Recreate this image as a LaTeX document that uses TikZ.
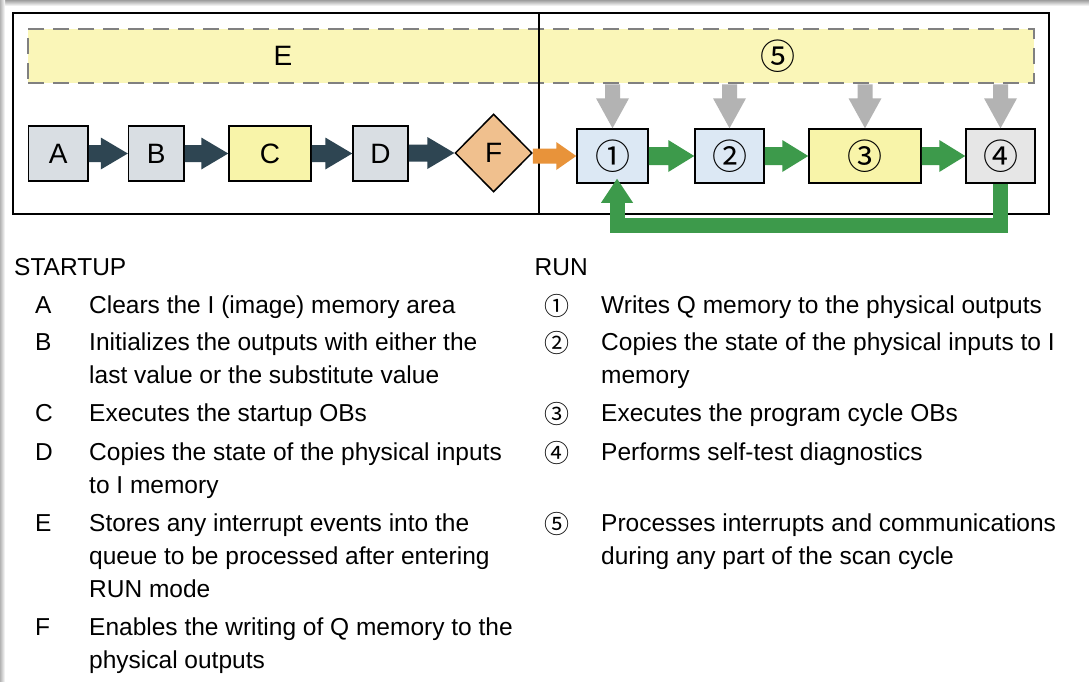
\documentclass[tikz,border=0pt]{standalone}
\usepackage{fontspec}
\setmainfont{Liberation Sans}
\newfontfamily\circfont{Noto Sans CJK SC}
\usetikzlibrary{shapes.geometric,calc}
\definecolor{boxgray}{HTML}{D9DEE3}
\definecolor{boxyellow}{HTML}{F8F4A9}
\definecolor{boxorange}{HTML}{F0C08E}
\definecolor{boxblue}{HTML}{DCE8F4}
\definecolor{boxlgray}{HTML}{E6E6E6}
\definecolor{bandyellow}{HTML}{FAF6B8}
\definecolor{dashgray}{HTML}{808080}
\definecolor{darkarrow}{HTML}{2E4552}
\definecolor{greenarrow}{HTML}{3D9A4B}
\definecolor{orangearrow}{HTML}{E8933A}
\definecolor{grayarrow}{HTML}{B3B3B3}
\tikzset{
  box/.style={draw=black,line width=1.5pt,inner sep=0pt,minimum height=55pt,font=\fontsize{28}{28}\selectfont},
  runbox/.style={box,minimum height=54pt,font=\circfont\fontsize{35}{35}\selectfont},
  txt/.style={anchor=base west,inner sep=0pt,font=\fontsize{24.5}{24.5}\selectfont},
  circ/.style={anchor=base,inner sep=0pt,yshift=-2pt,font=\circfont\fontsize{25}{25}\selectfont},
}
% horizontal block arrow: colour, from, to(tip), shaft half, head half, head length
\newcommand\harrow[6]{%
  \fill[#1] ($(#2 |- #3)+(0,-#4)$) -- ($(#3)+(-#6,-#4)$) -- ($(#3)+(-#6,-#5)$) -- (#3)
    -- ($(#3)+(-#6,#5)$) -- ($(#3)+(-#6,#4)$) -- ($(#2 |- #3)+(0,#4)$) -- cycle;}
% vertical (downward) block arrow
\newcommand\varrow[6]{%
  \fill[#1] ($(#3 |- #2)+(-#4,0)$) -- ($(#3)+(-#4,-#6)$) -- ($(#3)+(-#5,-#6)$) -- (#3)
    -- ($(#3)+(#5,-#6)$) -- ($(#3)+(#4,-#6)$) -- ($(#3 |- #2)+(#4,0)$) -- cycle;}
\begin{document}
\begin{tikzpicture}[x=1pt,y=-1pt]
\useasboundingbox (0,0) rectangle (1089,681);
\fill[white] (0,0) rectangle (1089,681);
% page shadow
\shade[top color=black!38,bottom color=white] (0,0) rectangle (1089,6);
\shade[left color=black!30,right color=white] (0,0) rectangle (5,681);

% interrupt band
\node[draw=dashgray,fill=bandyellow,line width=2.5pt,dash pattern=on 16pt off 9pt,
      minimum width=1006pt,minimum height=54pt,inner sep=0pt] (band) at (531,56) {};
\node[inner sep=0pt,font=\fontsize{28}{28}\selectfont] (Elab) at (283,56) {E};
\node[inner sep=0pt,font=\circfont\fontsize{35}{35}\selectfont] (Flab) at (778,56) {⑤};

% frame
\draw[line width=1.3pt] (13,13) rectangle (1049,214);
\draw[line width=1.3pt] (539,13) -- (539,214);

% startup boxes
\node[box,fill=boxgray,minimum width=59.5pt] (A) at (58.3,153.5) {A};
\node[box,fill=boxgray,minimum width=55.5pt] (B) at (156.3,153.5) {B};
\node[box,fill=boxyellow,minimum width=82pt] (C) at (270,153.5) {C};
\node[box,fill=boxgray,minimum width=55pt] (D) at (380.5,153.5) {D};
\node[draw=black,line width=1.5pt,fill=boxorange,diamond,inner sep=0pt,
      minimum width=77pt,minimum height=78pt,font=\fontsize{28}{28}\selectfont] (F) at (493.6,153) {F};

% run boxes
\node[runbox,fill=boxblue,minimum width=71pt] (n1) at (612.5,156) {①};
\node[runbox,fill=boxblue,minimum width=69pt] (n2) at (729.5,156) {②};
\node[runbox,fill=boxyellow,minimum width=112pt] (n3) at (865,156) {③};
\node[runbox,fill=boxlgray,minimum width=69pt] (n4) at (1000.5,156) {④};

% startup arrows
\harrow{darkarrow}{A.east}{B.west}{8.5}{16}{27}
\harrow{darkarrow}{B.east}{C.west}{8.5}{16}{27}
\harrow{darkarrow}{C.east}{D.west}{8.5}{16}{27}
\harrow{darkarrow}{D.east}{F.west}{8.5}{16}{27}
\harrow{orangearrow}{F.east}{n1.west}{7.5}{14}{20}

% run arrows
\harrow{greenarrow}{n1.east}{n2.west}{9}{16}{26}
\harrow{greenarrow}{n2.east}{n3.west}{9}{16}{26}
\harrow{greenarrow}{n3.east}{n4.west}{9}{16}{26}

% interrupt arrows
\varrow{grayarrow}{band.south}{n1.north}{7.5}{16.5}{30}
\varrow{grayarrow}{band.south}{n2.north}{7.5}{16.5}{30}
\varrow{grayarrow}{band.south}{n3.north}{7.5}{16.5}{30}
\varrow{grayarrow}{band.south}{n4.north}{7.5}{16.5}{30}

% loop back
\coordinate (tip) at ($(n1.south)+(4.5,-5)$);
\coordinate (lb) at (617,225.5);
\draw[greenarrow,line width=15pt] (n4.south) |- (lb) -- ($(tip)+(0,22)$);
\fill[greenarrow] ($(tip)+(-16,24)$) -- (tip) -- ($(tip)+(16,24)$) -- cycle;

% legend: startup
\node[txt] (hs) at (14,275) {STARTUP};
\node[txt] (la) at (35,313) {A};
\node[txt] (ta) at (89,313) {Clears the I (image) memory area};
\node[txt] (lb1) at (35,350) {B};
\node[txt] (tb1) at (89,350) {Initializes the outputs with either the};
\node[txt] (tb2) at (89,383) {last value or the substitute value};
\node[txt] (lc) at (35,421) {C};
\node[txt] (tc) at (89,421) {Executes the startup OBs};
\node[txt] (ld) at (35,460) {D};
\node[txt] (td1) at (89,460) {Copies the state of the physical inputs};
\node[txt] (td2) at (89,493) {to I memory};
\node[txt] (le) at (35,531) {E};
\node[txt] (te1) at (89,531) {Stores any interrupt events into the};
\node[txt] (te2) at (89,564) {queue to be processed after entering};
\node[txt] (te3) at (89,597) {RUN mode};
\node[txt] (lf) at (35,635) {F};
\node[txt] (tf1) at (89,635) {Enables the writing of Q memory to the};
\node[txt] (tf2) at (89,668) {physical outputs};

% legend: run
\node[txt] (hr) at (534.5,275) {RUN};
\node[circ] (c1) at (556.5,313) {①};
\node[txt] (r1) at (601,313) {Writes Q memory to the physical outputs};
\node[circ] (c2) at (556.5,350) {②};
\node[txt] (r2a) at (601,350) {Copies the state of the physical inputs to I};
\node[txt] (r2b) at (601,383) {memory};
\node[circ] (c3) at (556.5,421) {③};
\node[txt] (r3) at (601,421) {Executes the program cycle OBs};
\node[circ] (c4) at (556.5,460) {④};
\node[txt] (r4) at (601,460) {Performs self-test diagnostics};
\node[circ] (c5) at (556.5,531) {⑤};
\node[txt] (r5a) at (601,531) {Processes interrupts and communications};
\node[txt] (r5b) at (601,564) {during any part of the scan cycle};
\end{tikzpicture}
\end{document}
